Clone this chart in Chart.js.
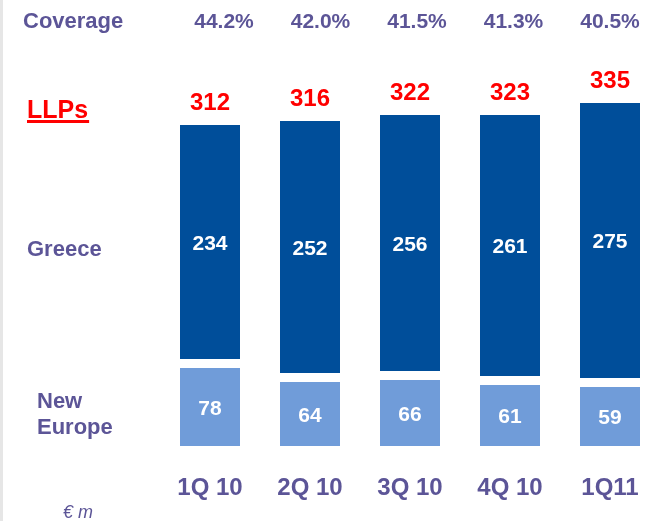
<!DOCTYPE html>
<html>
<head>
<meta charset="utf-8">
<script src="https://cdn.jsdelivr.net/npm/chart.js@4/dist/chart.umd.min.js"></script>
<style>
  html, body { margin: 0; padding: 0; background: #ffffff; }
  #wrap { position: relative; width: 663px; height: 521px; }
  canvas { display: block; }
</style>
</head>
<body>
<div id="wrap"><canvas id="c" width="663" height="521"></canvas></div>
<script>
// ---- data ----
const categories = ['1Q 10', '2Q 10', '3Q 10', '4Q 10', '1Q11'];
const newEurope  = [78, 64, 66, 61, 59];
const greece     = [234, 252, 256, 261, 275];
const llpTotals  = [312, 316, 322, 323, 335];
const coverage   = [44.2, 42.0, 41.5, 41.3, 40.5];

// ---- style ----
const PURPLE = '#5C5597';
const DARK = '#004E9A';
const LIGHT = '#709CD9';
const RED = '#FF0000';
const FONT = '"Liberation Sans", Arial, Helvetica, sans-serif';
const GAP = 9; // white gap between the two stacked parts (value units)

const greeceFloating = greece.map((v, i) => [newEurope[i] + GAP, newEurope[i] + GAP + v]);

const textPlugin = {
  id: 'texts',
  beforeDraw(chart) {
    const ctx = chart.ctx;
    ctx.save();
    ctx.fillStyle = '#ffffff';
    ctx.fillRect(0, 0, chart.width, chart.height);
    ctx.fillStyle = '#E6E6E6';
    ctx.fillRect(0, 0, 3, chart.height);
    ctx.restore();
  },
  afterDatasetsDraw(chart) {
    const ctx = chart.ctx;
    const xs = chart.scales.x;
    ctx.save();
    // in-bar values
    ctx.textAlign = 'center';
    ctx.textBaseline = 'middle';
    ctx.fillStyle = '#ffffff';
    ctx.font = 'bold 21px ' + FONT;
    [newEurope, greece].forEach((arr, d) => {
      const meta = chart.getDatasetMeta(d);
      meta.data.forEach((bar, i) => {
        const yMid = (bar.y + bar.base) / 2;
        ctx.fillText(String(arr[i]), bar.x, yMid + 2);
      });
    });
    // totals
    ctx.fillStyle = RED;
    ctx.font = 'bold 24px ' + FONT;
    ctx.textBaseline = 'alphabetic';
    const gMeta = chart.getDatasetMeta(1);
    gMeta.data.forEach((bar, i) => {
      ctx.fillText(String(llpTotals[i]), bar.x, bar.y - 15);
    });
    // coverage row
    ctx.fillStyle = PURPLE;
    ctx.font = 'bold 21px ' + FONT;
    const lastX = xs.getPixelForValue(categories.length - 1);
    coverage.forEach((c, i) => {
      const x = lastX - (categories.length - 1 - i) * 96.5;
      ctx.fillText(c.toFixed(1) + '%', x, 28);
    });
    // category labels
    ctx.font = 'bold 24px ' + FONT;
    categories.forEach((c, i) => {
      ctx.fillText(c, xs.getPixelForValue(i), 495);
    });
    // left labels
    ctx.textAlign = 'left';
    ctx.font = 'bold 22px ' + FONT;
    ctx.fillText('Coverage', 23, 28);
    ctx.fillText('Greece', 27, 256);
    ctx.fillText('New', 37, 408);
    ctx.fillText('Europe', 37, 434);
    // LLPs underlined
    ctx.fillStyle = RED;
    ctx.font = 'bold 25px ' + FONT;
    ctx.fillText('LLPs', 27, 118);
    const w = ctx.measureText('LLPs').width;
    ctx.fillRect(27, 120, w + 1, 3);
    // unit
    ctx.fillStyle = PURPLE;
    ctx.font = 'italic 18px ' + FONT;
    ctx.fillText('\u20AC m', 63, 518);
    ctx.restore();
  }
};

new Chart(document.getElementById('c'), {
  type: 'bar',
  data: {
    labels: categories,
    datasets: [
      { label: 'New Europe', data: newEurope, backgroundColor: LIGHT, borderWidth: 0 },
      { label: 'Greece', data: greeceFloating, backgroundColor: DARK, borderWidth: 0 }
    ]
  },
  options: {
    responsive: false,
    animation: false,
    devicePixelRatio: 1,
    layout: { padding: { left: 160, right: 3, top: 26, bottom: 75 } },
    plugins: { legend: { display: false }, tooltip: { enabled: false }, title: { display: false } },
    datasets: { bar: { barPercentage: 0.6, categoryPercentage: 1.0 } },
    scales: {
      x: { display: false, stacked: true, offset: true },
      y: { display: false, stacked: false, min: 0, max: 420 }
    }
  },
  plugins: [textPlugin]
});
</script>
</body>
</html>
